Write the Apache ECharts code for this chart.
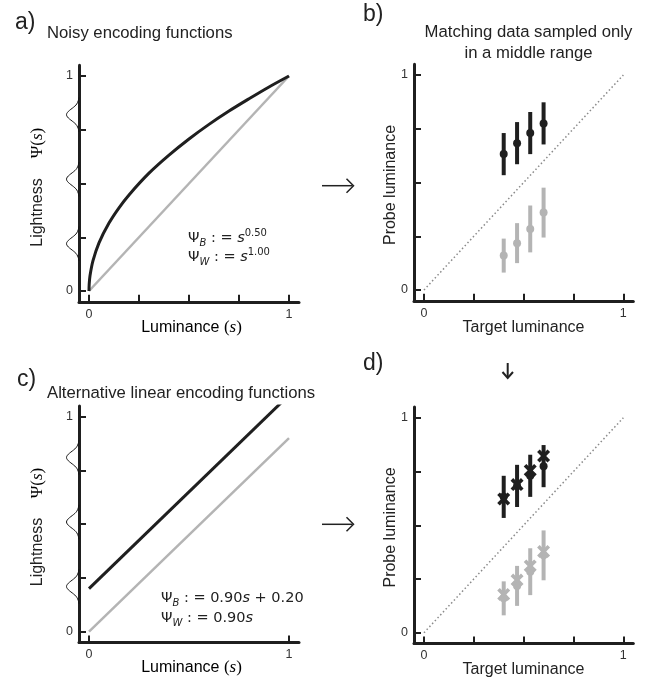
<!DOCTYPE html>
<html>
<head>
<meta charset="utf-8">
<script src="https://cdn.jsdelivr.net/npm/echarts@6/dist/echarts.min.js"></script>
<style>html,body{margin:0;padding:0;background:#fff;}#c{width:646px;height:682px;}</style>
</head>
<body>
<div id="c"></div>
<script>
// ---------- data ----------
const encX = [0, 0.001, 0.005, 0.02, 0.05, 0.1, 0.15, 0.2, 0.3, 0.4, 0.5, 0.6, 0.7, 0.8, 0.9, 1];
const encBlackA = [0, 0.032, 0.071, 0.141, 0.224, 0.316, 0.387, 0.447, 0.548, 0.632, 0.707, 0.775, 0.837, 0.894, 0.949, 1];
const encGreyAX = [0, 1];
const encGreyA = [0, 1];
const linX = [0, 1];
const linBlackC = [0.2, 1.1];
const linGreyC = [0, 0.9];

const targetX = [0.40, 0.467, 0.533, 0.60];
const blackMean = [0.632, 0.683, 0.730, 0.775];
const blackErr = [0.098, 0.098, 0.098, 0.098];
const greyMean = [0.160, 0.218, 0.284, 0.360];
const greyErr = [0.079, 0.093, 0.109, 0.116];
const blackPred = [0.622, 0.689, 0.755, 0.822];
const greyPred = [0.178, 0.245, 0.311, 0.378];

const diagX = [0, 1];
const diagY = [0, 1];

const bumpCentersA = [0.22, 0.52, 0.82];
const bumpCentersC = [0.21, 0.51, 0.81];
const bumpOffsets = [-0.08, -0.065, -0.05, -0.04, -0.03, -0.02, -0.01, 0, 0.01, 0.02, 0.03, 0.04, 0.05, 0.065, 0.08];
const bumpShape = [0.01, 0.06, 0.18, 0.33, 0.54, 0.76, 0.93, 1, 0.93, 0.76, 0.54, 0.33, 0.18, 0.06, 0.01];

const tickVals = [0, 0.25, 0.5, 0.75, 1];
const labelVals = [0, 1];
const tickValsCX = [0, 1];

// ---------- styling ----------
const DARK = '#1f1f1f';
const GREY = '#b4b4b4';
const SANS = 'Liberation Sans, Arial, sans-serif';
const SERIF = 'Liberation Serif, Times New Roman, serif';
const MATH = 'DejaVu Sans, sans-serif';
const CROSS = 'path://M0,2 L2,0 L5,3 L8,0 L10,2 L7,5 L10,8 L8,10 L5,7 L2,10 L0,8 L3,5 Z';
const TITLE = 16.7;

const pairs = (xs, ys) => xs.map((x, i) => [x, ys[i]]);
const bars = (xs, m, e) => xs.map((x, i) => [x, m[i] - e[i], m[i] + e[i]]);
const bumps = (centers) => {
  const out = [];
  centers.forEach(c => {
    bumpOffsets.forEach((d, i) => out.push([-bumpShape[i], c + d]));
    out.push(null);
  });
  return out;
};

const grids = [
  {left: 79, top: 65.25, width: 220, height: 236.5},
  {left: 414, top: 64.25, width: 219.3, height: 236.5},
  {left: 79, top: 405.9, width: 220, height: 236.5},
  {left: 414, top: 407, width: 219.3, height: 236.5},
  {left: 54, top: 65.25, width: 25, height: 236.5},
  {left: 54, top: 405.9, width: 25, height: 236.5}
];

function mainAxis(gi, ticks) {
  return {
    type: 'value', gridIndex: gi, min: -0.05, max: 1.05,
    axisLine: {show: true, onZero: false, lineStyle: {color: DARK, width: 3}},
    axisTick: {show: true, inside: true, length: 7, customValues: ticks, lineStyle: {color: DARK, width: 2}},
    axisLabel: {show: true, customValues: labelVals, color: '#333', fontSize: 12.5, fontFamily: SANS, margin: 6},
    splitLine: {show: false}
  };
}
function hiddenAxis(gi, min, max) {
  return {type: 'value', gridIndex: gi, min: min, max: max, show: false, splitLine: {show: false}};
}

const xAxis = [
  mainAxis(0, tickVals), mainAxis(1, tickVals), mainAxis(2, tickValsCX), mainAxis(3, tickVals),
  hiddenAxis(4, -2, 0), hiddenAxis(5, -2, 0)
];
const yAxis = [
  mainAxis(0, tickVals), mainAxis(1, tickVals), mainAxis(2, tickVals), mainAxis(3, tickVals),
  hiddenAxis(4, -0.05, 1.05), hiddenAxis(5, -0.05, 1.05)
];

function lineS(ai, data, color, width, extra) {
  return Object.assign({
    type: 'line', xAxisIndex: ai, yAxisIndex: ai, data: data, showSymbol: false, symbol: 'none',
    lineStyle: {color: color, width: width}, silent: true, animation: false
  }, extra || {});
}
function errS(ai, data, color) {
  return {
    type: 'custom', xAxisIndex: ai, yAxisIndex: ai, data: data, z: 3, silent: true, animation: false,
    encode: {x: 0, y: [1, 2]},
    renderItem: function (params, api) {
      const p1 = api.coord([api.value(0), api.value(1)]);
      const p2 = api.coord([api.value(0), api.value(2)]);
      return {type: 'line', shape: {x1: p1[0], y1: p1[1], x2: p2[0], y2: p2[1]},
        style: {stroke: color, lineWidth: 4}};
    }
  };
}
function dotS(ai, data, color, symbol, size, z) {
  return {type: 'scatter', xAxisIndex: ai, yAxisIndex: ai, data: data, symbol: symbol, symbolSize: size,
    itemStyle: {color: color, opacity: 1}, z: z, silent: true, animation: false};
}

const series = [
  // panel a
  lineS(0, pairs(encGreyAX, encGreyA), GREY, 2.5),
  lineS(0, pairs(encX, encBlackA), DARK, 3, {smooth: 0.3}),
  lineS(4, bumps(bumpCentersA), '#111', 1, {smooth: 0.4, connectNulls: false}),
  // panel b
  lineS(1, pairs(diagX, diagY), '#8a8a8a', 1.5, {lineStyle: {color: '#8a8a8a', width: 1.5, type: [1.5, 2.5]}}),
  errS(1, bars(targetX, blackMean, blackErr), DARK),
  errS(1, bars(targetX, greyMean, greyErr), GREY),
  dotS(1, pairs(targetX, blackMean), DARK, 'circle', 8, 5),
  dotS(1, pairs(targetX, greyMean), GREY, 'circle', 8, 5),
  // panel c
  lineS(2, pairs(linX, linGreyC), GREY, 2.5),
  lineS(2, pairs(linX, linBlackC), DARK, 3),
  lineS(5, bumps(bumpCentersC), '#111', 1, {smooth: 0.4, connectNulls: false}),
  // panel d
  lineS(3, pairs(diagX, diagY), '#8a8a8a', 1.5, {lineStyle: {color: '#8a8a8a', width: 1.5, type: [1.5, 2.5]}}),
  errS(3, bars(targetX, blackMean, blackErr), DARK),
  errS(3, bars(targetX, greyMean, greyErr), GREY),
  dotS(3, pairs(targetX, blackMean), DARK, 'circle', 8, 5),
  dotS(3, pairs(targetX, greyMean), GREY, 'circle', 8, 5),
  dotS(3, pairs(targetX, blackPred), DARK, CROSS, 13, 6),
  dotS(3, pairs(targetX, greyPred), GREY, CROSS, 13, 6)
];

// ---------- text & decorations ----------
function txt(x, y, text, size, opts) {
  return Object.assign({
    type: 'text', x: x, y: y, silent: true,
    style: Object.assign({text: text, fill: '#222', font: size + 'px ' + SANS, align: 'left', verticalAlign: 'middle'}, (opts && opts.style) || {})
  }, (opts && opts.el) || {});
}
function formula(x, y, parts) {
  return {
    type: 'text', x: x, y: y, silent: true,
    style: {
      text: parts, align: 'left', verticalAlign: 'middle', fill: '#222',
      rich: {
        n: {fontSize: 14.5, fontFamily: MATH, color: '#222', lineHeight: 20, verticalAlign: 'middle'},
        it: {fontSize: 14.5, fontFamily: MATH, fontStyle: 'italic', color: '#222', lineHeight: 20},
        sub: {fontSize: 10, fontFamily: MATH, fontStyle: 'italic', color: '#222', lineHeight: 10, verticalAlign: 'bottom'},
        sup: {fontSize: 10, fontFamily: MATH, color: '#222', lineHeight: 10, verticalAlign: 'top'}
      }
    }
  };
}
function psiLabel(x, y) {
  return {
    type: 'text', x: x, y: y, rotation: Math.PI / 2, silent: true,
    style: {
      text: '{u|Ψ(}{i|s}{u|)}', align: 'center', verticalAlign: 'middle',
      rich: {
        u: {fontSize: 17, fontFamily: SERIF, color: '#222'},
        i: {fontSize: 17, fontFamily: SERIF, fontStyle: 'italic', color: '#222'}
      }
    }
  };
}
function lumLabel(x, y) {
  return {
    type: 'text', x: x, y: y, silent: true,
    style: {
      text: '{a|Luminance }{u|(}{i|s}{u|)}', align: 'center', verticalAlign: 'middle',
      rich: {
        a: {fontSize: 16, fontFamily: SANS, color: '#222'},
        u: {fontSize: 17, fontFamily: SERIF, color: '#222'},
        i: {fontSize: 17, fontFamily: SERIF, fontStyle: 'italic', color: '#222'}
      }
    }
  };
}
function rightArrow(y) {
  return [
    {type: 'polyline', silent: true, shape: {points: [[322, y], [352.5, y]]}, style: {stroke: '#222', lineWidth: 1.5, fill: null}},
    {type: 'polyline', silent: true, shape: {points: [[346.5, y - 7], [353.5, y], [346.5, y + 7]]}, style: {stroke: '#222', lineWidth: 1.5, fill: null}}
  ];
}

const graphic = [
  txt(15, 23, 'a)', 23),
  txt(47, 33, 'Noisy encoding functions', TITLE),
  txt(363, 15, 'b)', 23),
  txt(528.5, 32, 'Matching data sampled only', TITLE, {style: {align: 'center'}}),
  txt(528.5, 53, 'in a middle range', TITLE, {style: {align: 'center'}}),
  txt(17, 380, 'c)', 23),
  txt(47, 393, 'Alternative linear encoding functions', TITLE),
  txt(363, 364, 'd)', 23),
  // y labels
  txt(37.5, 212.5, 'Lightness', 16, {style: {align: 'center'}, el: {rotation: Math.PI / 2}}),
  psiLabel(37.5, 143),
  txt(37.5, 552, 'Lightness', 16, {style: {align: 'center'}, el: {rotation: Math.PI / 2}}),
  psiLabel(37.5, 483),
  txt(390.5, 185, 'Probe luminance', 16, {style: {align: 'center'}, el: {rotation: Math.PI / 2}}),
  txt(390.5, 527.5, 'Probe luminance', 16, {style: {align: 'center'}, el: {rotation: Math.PI / 2}}),
  // x labels
  lumLabel(191.5, 328),
  lumLabel(191.5, 668),
  txt(523.5, 328, 'Target luminance', 16, {style: {align: 'center'}}),
  txt(523.5, 670, 'Target luminance', 16, {style: {align: 'center'}}),
  // formulas
  formula(188, 238, '{n|Ψ}{sub|B}{n| : = }{it|s}{sup|0.50}'),
  formula(188, 257, '{n|Ψ}{sub|W}{n| : = }{it|s}{sup|1.00}'),
  formula(161, 598, '{n|Ψ}{sub|B}{n| : = 0.90}{it|s}{n| + 0.20}'),
  formula(161, 618, '{n|Ψ}{sub|W}{n| : = 0.90}{it|s}'),
  // down arrow
  {type: 'polyline', silent: true, shape: {points: [[507.7, 363], [507.7, 377]]}, style: {stroke: '#222', lineWidth: 2, fill: null}},
  {type: 'polyline', silent: true, shape: {points: [[502.5, 372], [507.7, 378], [513, 372]]}, style: {stroke: '#222', lineWidth: 2, fill: null}}
].concat(rightArrow(185.7), rightArrow(524.3));

const chart = echarts.init(document.getElementById('c'), null, {renderer: 'canvas'});
chart.setOption({
  animation: false,
  backgroundColor: '#fff',
  grid: grids,
  xAxis: xAxis,
  yAxis: yAxis,
  series: series,
  graphic: graphic
});
</script>
</body>
</html>
